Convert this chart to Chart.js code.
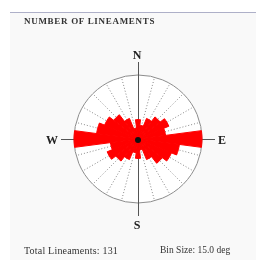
<!DOCTYPE html>
<html lang="en">
<head>
  <meta charset="UTF-8" />
  <title>Number of Lineaments</title>
  <script src="https://cdn.jsdelivr.net/npm/chart.js"></script>
  <style>
    body { margin: 0; background: #fff; }
    #wrap { position: relative; width: 256px; height: 260px; overflow: hidden; }
    #band { position: absolute; left: 10px; top: 12px; right: 0; bottom: 0;
            background: #f9f9f9; border-top: 1px solid #aeb0c8; }
    canvas { position: absolute; left: 0; top: 0; }
    .txt { position: absolute; font-family: "Liberation Serif", serif; color: #333; white-space: nowrap; }
    #title { left: 24px; top: 16px; font-size: 9px; font-weight: bold; letter-spacing: 0.7px; }
    #total { left: 24px; top: 245px; font-size: 10px; letter-spacing: 0.2px; }
    #bins { left: 160px; top: 245px; font-size: 9.5px; }
  </style>
</head>
<body>
<div id="wrap">
  <div id="band"></div>
  <canvas id="rose" width="256" height="260"></canvas>
  <div class="txt" id="title">NUMBER OF LINEAMENTS</div>
  <div class="txt" id="total">Total Lineaments: 131</div>
  <div class="txt" id="bins">Bin Size: 15.0 deg</div>
</div>

<script>
  // bin centres (deg, clockwise from north), 15 deg bins
  const directions = [0, 15, 30, 45, 60, 75, 90, 105, 120, 135, 150, 165,
                      180, 195, 210, 225, 240, 255, 270, 285, 300, 315, 330, 345];
  // lineaments are bidirectional: second half mirrors the first
  const halfCounts = [7, 5, 8, 10, 12, 10, 23, 15, 13, 11, 8, 4];
  const counts = halfCounts.concat(halfCounts);
  const maxCount = 23;
  const compass = ['N', 'E', 'S', 'W'];

  const roseDecor = {
    id: 'roseDecor',
    beforeDatasetsDraw(chart) {
      const r = chart.scales.r;
      const ctx = chart.ctx;
      const cx = r.xCenter, cy = r.yCenter, R = r.drawingArea;
      ctx.save();
      ctx.fillStyle = '#fff';
      ctx.beginPath(); ctx.arc(cx, cy, R, 0, Math.PI * 2); ctx.fill();
      // dotted spokes
      ctx.strokeStyle = '#8a8a8a';
      ctx.lineWidth = 1;
      ctx.setLineDash([1, 2]);
      directions.forEach(d => {
        if (d % 90 === 0) return;
        const a = d * Math.PI / 180;
        ctx.beginPath();
        ctx.moveTo(cx + 10 * Math.sin(a), cy - 10 * Math.cos(a));
        ctx.lineTo(cx + R * Math.sin(a), cy - R * Math.cos(a));
        ctx.stroke();
      });
      ctx.setLineDash([]);
      // outer circle
      ctx.strokeStyle = '#8c8c8c';
      ctx.beginPath(); ctx.arc(cx, cy, R, 0, Math.PI * 2); ctx.stroke();
      // N-S / E-W axes
      ctx.strokeStyle = '#555';
      const L = R + 13;
      ctx.beginPath();
      ctx.moveTo(cx + 0.5, cy - L); ctx.lineTo(cx + 0.5, cy + L);
      ctx.moveTo(cx - L, cy + 0.5); ctx.lineTo(cx + L, cy + 0.5);
      ctx.stroke();
      ctx.restore();
    },
    afterDatasetsDraw(chart) {
      const r = chart.scales.r;
      const ctx = chart.ctx;
      const cx = r.xCenter, cy = r.yCenter, R = r.drawingArea;
      ctx.save();
      ctx.fillStyle = '#111';
      ctx.beginPath(); ctx.arc(cx, cy + 1, 3, 0, Math.PI * 2); ctx.fill();
      ctx.font = 'bold 12px "Liberation Serif", serif';
      ctx.fillStyle = '#222';
      ctx.textAlign = 'center';
      ctx.textBaseline = 'middle';
      const D = R + 21;
      compass.forEach((c, i) => {
        const a = i * Math.PI / 2;
        ctx.fillText(c, cx + D * Math.sin(a) - 1, cy - D * Math.cos(a) + 2);
      });
      ctx.restore();
    }
  };

  new Chart(document.getElementById('rose'), {
    type: 'polarArea',
    data: {
      labels: directions.map(d => d + '°'),
      datasets: [{
        data: counts,
        backgroundColor: '#ff0000',
        borderColor: '#ff0000',
        borderWidth: 1
      }]
    },
    options: {
      responsive: false,
      animation: false,
      layout: { padding: { left: 74, right: 54, top: 75, bottom: 57 } },
      plugins: { legend: { display: false }, tooltip: { enabled: false } },
      scales: {
        r: {
          min: 0,
          max: maxCount,
          startAngle: -7.5,
          ticks: { display: false, stepSize: maxCount },
          grid: { display: false },
          angleLines: { display: false },
          pointLabels: { display: false }
        }
      }
    },
    plugins: [roseDecor]
  });
</script>
</body>
</html>
